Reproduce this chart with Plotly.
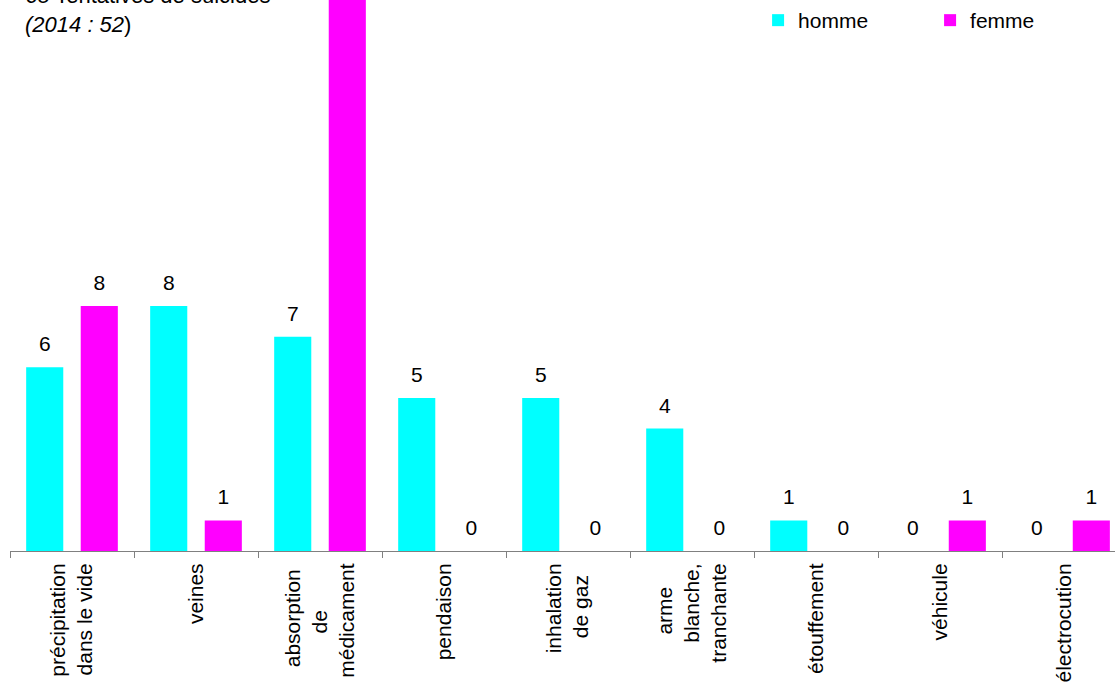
import plotly.graph_objects as go

NB = "\u00a0"
categories = ["précipitation<br>dans le vide",
              "veines",
              "absorption" + NB + "<br>de" + NB * 8 + "<br>médicament",
              "pendaison",
              "inhalation<br>de gaz" + NB * 2,
              "arme" + NB * 4 + "<br>blanche,<br>tranchante",
              "étouffement",
              "véhicule",
              "électrocution"]
homme = [6, 8, 7, 5, 5, 4, 1, 0, 0]
femme = [8, 1, 18, 0, 0, 0, 0, 1, 1]
title_lines = ["65 Tentatives de suicides", "(2014 : 52)"]

FONT = "Liberation Sans, Arial, sans-serif"
PAD = "<span style='font-size:60px'>\u00a0</span>"
LABEL_TEMPLATE = PAD + "%{y}" + PAD

fig = go.Figure()
fig.add_trace(go.Bar(
    x=categories, y=homme, name="homme",
    marker=dict(color="#00FFFF", line=dict(width=0)),
    texttemplate=LABEL_TEMPLATE, textposition="outside", cliponaxis=True,
    constraintext="none",
    textfont=dict(size=21, color="black", family=FONT),
))
fig.add_trace(go.Bar(
    x=categories, y=femme, name="femme",
    marker=dict(color="#FF00FF", line=dict(width=0)),
    texttemplate=LABEL_TEMPLATE, textposition="outside", cliponaxis=True,
    constraintext="none",
    textfont=dict(size=21, color="black", family=FONT),
))

fig.update_layout(
    width=1115, height=686,
    margin=dict(l=10, r=0, t=0, b=135),
    paper_bgcolor="white", plot_bgcolor="white",
    barmode="group", bargap=0.12, bargroupgap=0.32,
    font=dict(family=FONT, size=20, color="black"),
    showlegend=True,
    legend=dict(orientation="h", x=0.677, xanchor="left", y=1, yanchor="top",
                entrywidth=127, entrywidthmode="pixels",
                font=dict(size=21, family=FONT), bgcolor="rgba(0,0,0,0)"),
)
fig.update_xaxes(
    range=[-0.5, 8.411], showline=True, linecolor="#808080", linewidth=1,
    ticks="outside", tickson="boundaries", ticklen=6, tickcolor="#808080",
    tickangle=-90, tickfont=dict(size=21, family=FONT, color="black"),
    ticklabelstandoff=3,
    showgrid=False, zeroline=False,
)
fig.update_yaxes(range=[0, 18], visible=False, showgrid=False, zeroline=False)

fig.add_annotation(
    xref="paper", yref="paper", x=0, y=1, xshift=13, yshift=19,
    xanchor="left", yanchor="top", align="left", showarrow=False,
    text=title_lines[0] + "<br><i>" + title_lines[1][:-1] + "</i>" + title_lines[1][-1],
    font=dict(size=22, family=FONT, color="black"),
)

fig.write_html("out.html", config={"displayModeBar": False},
               post_script="document.body.style.margin='0';")
